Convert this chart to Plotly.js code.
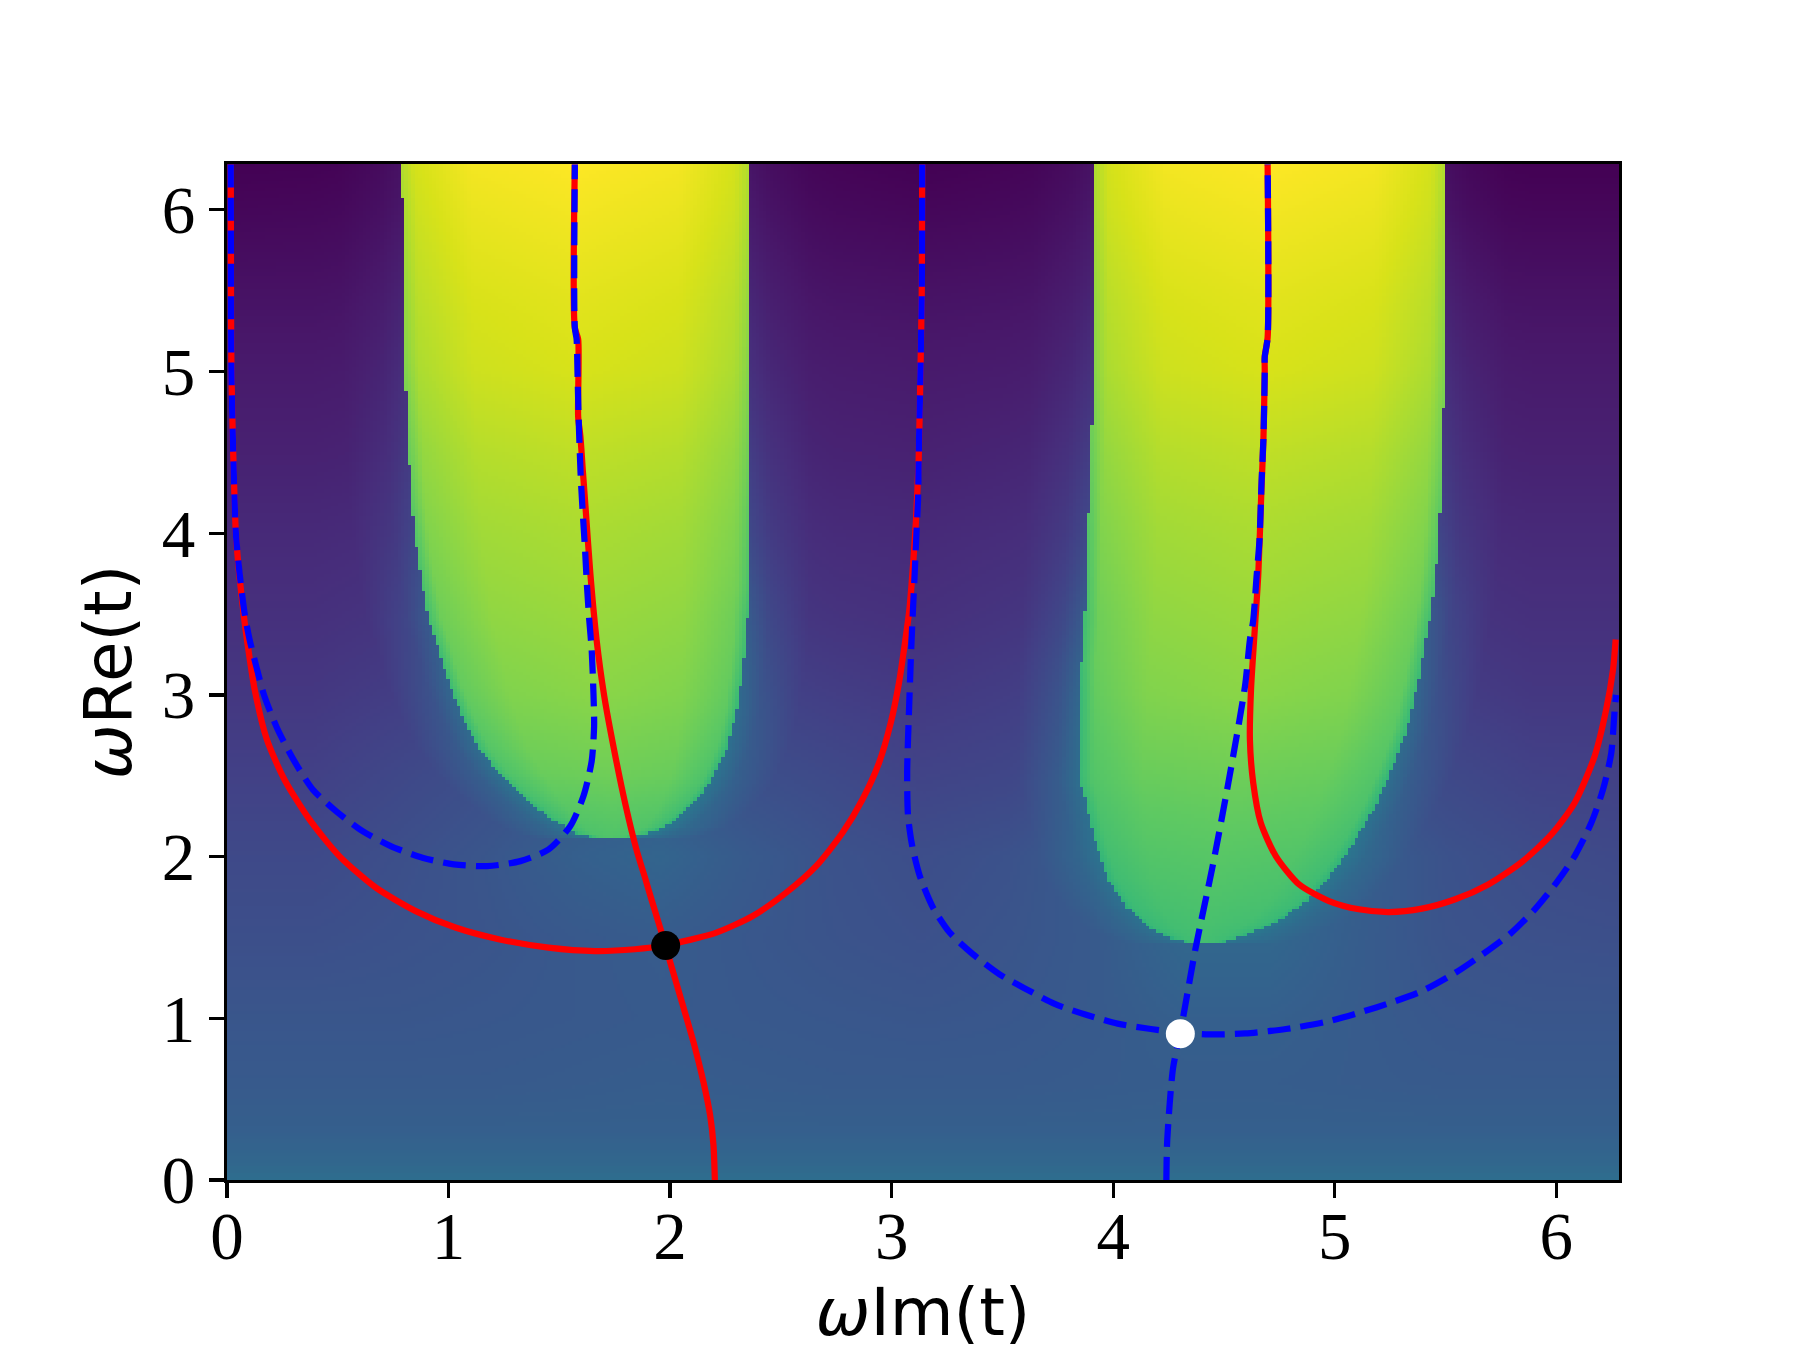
<!DOCTYPE html>
<html><head><meta charset="utf-8">
<script src="https://cdn.plot.ly/plotly-3.0.1.min.js"></script>
<style>html,body{margin:0;padding:0;background:#fff}</style></head>
<body><div id="chart" style="width:1800px;height:1350px"></div>
<script>
// ---- curves ----
const redAX=[0.017,0.018,0.02,0.028,0.04,0.055,0.075,0.09,0.125,0.18,0.259,0.372,0.507,0.672,0.852,1.031,1.226,1.451,1.661,1.841,1.979,2.209,2.373,2.524,2.659,2.778,2.868,2.943,2.996,3.033,3.06,3.08,3.096,3.11,3.122,3.13,3.136,3.138];
const redAY=[6.28,5.5,5.0,4.5,4.0,3.75,3.5,3.342,3.033,2.724,2.477,2.23,2.003,1.808,1.663,1.561,1.489,1.437,1.416,1.427,1.4515,1.53,1.633,1.777,1.941,2.147,2.353,2.58,2.827,3.074,3.321,3.527,3.794,4.083,4.46,5.0,5.5,6.28];
const redBX=[1.57,1.57,1.585,1.585,1.595,1.607,1.618,1.64,1.668,1.703,1.747,1.80,1.848,1.889,1.917,1.979,2.001,2.054,2.106,2.151,2.181,2.196,2.202];
const redBY=[6.28,5.27,5.2,4.72,4.6,4.37,4.165,3.75,3.342,2.99,2.662,2.312,2.044,1.859,1.73,1.4515,1.345,1.097,0.85,0.603,0.397,0.212,0];
const redCX=[4.697,4.697,4.684,4.684,4.678,4.669,4.655,4.636,4.622,4.617,4.632,4.666,4.734,4.839,4.974,5.109,5.244,5.393,5.544,5.693,5.843,5.978,6.083,6.173,6.225,6.256,6.268];
const redCY=[6.28,5.21,5.09,5.0,4.58,4.27,3.75,3.342,3.033,2.724,2.456,2.209,2.003,1.828,1.725,1.674,1.657,1.678,1.736,1.828,1.965,2.137,2.333,2.621,2.909,3.156,3.342];
const blueAX=[0.017,0.018,0.02,0.028,0.04,0.057,0.08,0.102,0.132,0.169,0.229,0.304,0.387,0.492,0.612,0.739,0.882,1.024,1.174,1.324,1.451,1.549,1.609,1.646,1.657,1.654,1.646,1.635,1.625,1.616,1.604,1.596,1.587,1.582,1.578,1.57,1.57];
const blueAY=[6.28,5.5,5.0,4.5,4.0,3.75,3.5,3.342,3.177,2.991,2.786,2.59,2.415,2.281,2.158,2.065,1.993,1.952,1.941,1.972,2.044,2.188,2.374,2.59,2.806,3.012,3.28,3.465,3.67,3.9,4.165,4.37,4.72,5.0,5.2,5.27,6.28];
const blueBX=[3.138,3.136,3.13,3.122,3.119,3.112,3.104,3.09,3.079,3.07,3.074,3.093,3.127,3.187,3.262,3.367,3.487,3.597,3.736,3.874,4.02,4.17,4.303,4.43,4.595,4.78,4.965,5.187,5.39,5.558,5.678,5.798,5.903,6.001,6.083,6.158,6.211,6.248,6.263,6.27];
const blueBY=[6.28,5.5,5.0,4.46,4.206,4.0,3.753,3.341,2.93,2.518,2.25,2.065,1.88,1.684,1.53,1.396,1.272,1.188,1.089,1.023,0.967,0.934,0.912,0.90,0.906,0.934,0.979,1.067,1.166,1.293,1.406,1.53,1.674,1.839,2.003,2.209,2.415,2.64,2.9,3.0];
const blueCX=[4.24,4.244,4.27,4.303,4.373,4.447,4.52,4.595,4.617,4.632,4.647,4.66,4.67,4.678,4.684,4.684,4.697,4.697];
const blueCY=[0,0.25,0.69,0.912,1.442,1.928,2.458,3.055,3.34,3.46,3.73,3.95,4.33,4.58,5.0,5.09,5.21,6.28];
const blackPoint={x:[1.98],y:[1.45]};
const whitePoint={x:[4.303],y:[0.905]};

// ---- field readings: lobe edges ----
const lobe1LY=[6.28,6.03,5.13,4.70,4.40,4.185,4.02,3.87,3.75,3.63,3.55,3.465,3.342,3.074,2.868,2.673,2.518,2.374,2.24,2.148,2.122,2.112];
const lobe1L=[.783,.795,.80,.815,.825,.833,.847,.86,.874,.888,.90,.91,.942,1.001,1.062,1.136,1.226,1.331,1.451,1.571,1.65,1.74];
const lobe1RY=[6.28,3.66,3.32,3.146,3.02,2.91,2.825,2.70,2.58,2.456,2.353,2.271,2.189,2.135,2.12,2.112];
const lobe1R=[2.356,2.356,2.341,2.327,2.312,2.302,2.287,2.263,2.227,2.181,2.122,2.062,1.987,1.882,1.81,1.74];
const lobe2LY=[6.28,5.57,4.73,4.215,3.8,3.44,3.2,2.46,2.35,2.08,1.862,1.685,1.553,1.487,1.47,1.464];
const lobe2L=[3.917,3.915,3.905,3.89,3.88,3.87,3.856,3.852,3.874,3.92,3.976,4.06,4.17,4.28,4.35,4.42];
const lobe2RY=[6.28,5.16,4.38,4.0,3.75,3.56,3.342,3.094,2.786,2.539,2.312,2.106,1.9,1.715,1.592,1.5,1.475,1.464];
const lobe2R=[5.497,5.497,5.482,5.47,5.455,5.44,5.411,5.378,5.326,5.258,5.184,5.094,4.989,4.869,4.734,4.569,4.5,4.42];

// ---- field readings: colour levels (viridis 0..1) ----
const lobeU=[0,.04,.2,.5,.8,.96,1];
const lobeRows=[1.46,2,2.5,3,3.5,4,4.5,5,5.5,6,6.28];
const lobe1Z=[
[.64,.67,.70,.71,.70,.67,.64],
[.64,.67,.70,.71,.70,.67,.64],
[.68,.72,.77,.78,.77,.72,.66],
[.68,.76,.81,.825,.81,.76,.68],
[.70,.78,.835,.85,.835,.78,.70],
[.73,.81,.86,.875,.86,.81,.74],
[.77,.84,.89,.905,.89,.84,.78],
[.81,.875,.925,.94,.925,.875,.81],
[.84,.90,.945,.96,.945,.90,.84],
[.87,.925,.97,.985,.97,.925,.87],
[.88,.935,.985,1.0,.985,.935,.88]];
const lobe2Z=[
[.64,.67,.69,.70,.69,.67,.64],
[.66,.70,.73,.74,.73,.70,.66],
[.68,.73,.77,.78,.77,.73,.66],
[.68,.76,.81,.825,.81,.76,.68],
[.70,.78,.835,.85,.835,.78,.70],
[.73,.81,.86,.875,.86,.81,.74],
[.77,.84,.89,.905,.89,.84,.78],
[.81,.875,.925,.94,.925,.875,.81],
[.84,.90,.945,.96,.945,.90,.84],
[.87,.925,.97,.985,.97,.925,.87],
[.88,.935,.985,1.0,.985,.935,.88]];
const bgX=[0,.39,.78,1.18,1.57,1.96,2.35,2.75,3.14,3.53,3.93,4.32,4.71,5.1,5.5,5.89,6.28];
const bgY=[0,.1,.3,.6,1,1.5,2,2.5,3,3.5,4,4.5,5,5.5,6,6.28];
const bgZ=[
[.36,.36,.36,.36,.36,.36,.36,.36,.36,.36,.36,.36,.36,.36,.36,.36,.36],
[.33,.33,.33,.33,.33,.33,.33,.33,.33,.33,.33,.33,.33,.33,.33,.33,.33],
[.30,.30,.30,.30,.30,.30,.30,.30,.30,.30,.30,.30,.30,.30,.30,.30,.30],
[.28,.28,.28,.28,.285,.29,.285,.28,.28,.28,.285,.29,.29,.285,.28,.28,.28],
[.265,.265,.265,.27,.275,.28,.275,.27,.265,.27,.28,.30,.30,.285,.27,.265,.265],
[.24,.24,.25,.26,.275,.285,.27,.255,.245,.26,.28,.33,.33,.29,.255,.245,.24],
[.22,.22,.24,.265,.30,.32,.28,.25,.235,.25,.29,.34,.34,.30,.25,.23,.22],
[.19,.19,.215,.24,.27,.27,.24,.22,.20,.21,.24,.27,.27,.24,.22,.195,.19],
[.16,.16,.18,.20,.22,.22,.20,.18,.165,.18,.20,.22,.22,.20,.18,.16,.16],
[.135,.135,.15,.165,.18,.18,.165,.145,.135,.15,.165,.18,.18,.165,.15,.135,.135],
[.115,.115,.125,.14,.15,.15,.14,.12,.115,.125,.14,.15,.15,.14,.125,.115,.115],
[.09,.09,.10,.115,.125,.125,.115,.095,.09,.10,.115,.125,.125,.115,.10,.09,.09],
[.07,.07,.08,.09,.10,.10,.09,.075,.07,.075,.09,.10,.10,.09,.08,.07,.07],
[.045,.045,.055,.065,.07,.07,.065,.05,.045,.05,.06,.07,.07,.065,.05,.045,.045],
[.015,.018,.03,.04,.045,.045,.04,.022,.015,.022,.035,.045,.045,.04,.022,.015,.015],
[0,.003,.015,.025,.03,.03,.025,.008,0,.008,.02,.03,.03,.025,.008,0,0]];
// lift of the background beside a lobe edge
const haloY=[1.46,2,2.5,3,3.5,4,5,6,6.28];
const haloRise=[.06,.09,.13,.14,.12,.08,.05,.03,.03];
const haloDist=[0,.1,.28];
const haloShare=[1,.45,0];
const tickValues=[0,1,2,3,4,5,6];
const axisMax=6.283;
const cols=400, rows=300;

// table lookup between the readings, to rasterise the field
function lin(xs,ys,v){
  const asc=xs[0]<xs[xs.length-1];
  for(let i=0;i<xs.length-1;i++){
    const a=xs[i],b=xs[i+1];
    if(asc?(v>=a&&v<=b):(v<=a&&v>=b)) return ys[i]+(ys[i+1]-ys[i])*(v-a)/((b-a)||1);
  }
  return (asc?v<xs[0]:v>xs[0])?ys[0]:ys[ys.length-1];
}
function table(xs,ys,t,x,y){
  const col=t.map(r=>lin(xs,r,x));
  return lin(ys,col,y);
}
const gx=[],gy=[],gz=[];
for(let i=0;i<cols;i++) gx.push((i+.5)/cols*axisMax);
for(let j=0;j<rows;j++) gy.push((j+.5)/rows*axisMax);
for(const y of gy){
  const row=[];
  const l1=y>=lobe1LY[lobe1LY.length-1]?[lin(lobe1LY,lobe1L,y),lin(lobe1RY,lobe1R,y)]:null;
  const l2=y>=lobe2LY[lobe2LY.length-1]?[lin(lobe2LY,lobe2L,y),lin(lobe2RY,lobe2R,y)]:null;
  const rise=lin(haloY,haloRise,y);
  for(const x of gx){
    if(l1&&x>=l1[0]&&x<=l1[1]) row.push(table(lobeU,lobeRows,lobe1Z,(x-l1[0])/(l1[1]-l1[0]),y));
    else if(l2&&x>=l2[0]&&x<=l2[1]) row.push(table(lobeU,lobeRows,lobe2Z,(x-l2[0])/(l2[1]-l2[0]),y));
    else{
      let d=9;
      if(l1) d=Math.min(d,Math.abs(x-l1[0]),Math.abs(x-l1[1]));
      if(l2) d=Math.min(d,Math.abs(x-l2[0]),Math.abs(x-l2[1]));
      row.push(table(bgX,bgY,bgZ,x,y)+rise*lin(haloDist,haloShare,d));
    }
  }
  gz.push(row);
}
const lineW=6.25, dash='23px,10px';
const curve=(x,y,color,d)=>({type:'scatter',mode:'lines',x,y,hoverinfo:'skip',
  line:{color,width:lineW,dash:d||'solid',shape:'spline',smoothing:0.7}});
const traces=[
 {type:'heatmap',x:gx,y:gy,z:gz,zmin:0,zmax:1,colorscale:'Viridis',showscale:false,zsmooth:false,hoverinfo:'skip'},
 curve(redAX,redAY,'#ff0000'),curve(redBX,redBY,'#ff0000'),curve(redCX,redCY,'#ff0000'),
 curve(blueAX,blueAY,'#0000ff',dash),curve(blueBX,blueBY,'#0000ff',dash),curve(blueCX,blueCY,'#0000ff',dash),
 {type:'scatter',mode:'markers',x:blackPoint.x,y:blackPoint.y,marker:{color:'#000',size:29},hoverinfo:'skip'},
 {type:'scatter',mode:'markers',x:whitePoint.x,y:whitePoint.y,marker:{color:'#fff',size:29},hoverinfo:'skip'}
];
const axis=(label,standoff,labelShift)=>({range:[0,axisMax],tickmode:'array',tickvals:tickValues,ticktext:tickValues.map(String),
  ticks:'outside',ticklen:15,tickwidth:3.3,tickcolor:'#000',showgrid:false,zeroline:false,
  showline:true,mirror:true,linecolor:'#000',linewidth:3.3,ticklabelstandoff:labelShift,
  tickfont:{family:'Liberation Serif',size:67,color:'#000'},
  title:{text:label,standoff,font:{family:'DejaVu Sans',size:65.5,color:'#000'}},automargin:false});
Plotly.newPlot('chart',traces,{
  width:1800,height:1350,showlegend:false,paper_bgcolor:'#fff',plot_bgcolor:'#fff',
  margin:{l:227,r:181,t:164,b:170,pad:0},
  xaxis:axis('<i>ω</i>Im(t)',30,-20),
  yaxis:axis('<i>ω</i>Re(t)',10,0)
},{displayModeBar:false,staticPlot:true});
</script></body></html>
